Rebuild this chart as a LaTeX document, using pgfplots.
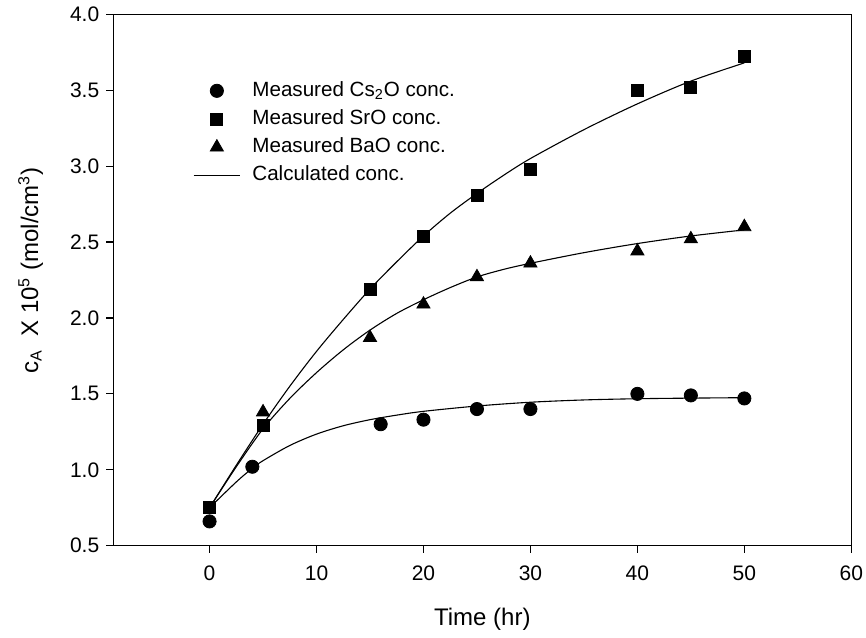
\documentclass[border=0pt]{standalone}
\usepackage{fontspec}
\setmainfont{Liberation Sans}
\usepackage{pgfplots}
\pgfplotsset{compat=1.18}

\begin{document}
\begin{tikzpicture}
\begin{axis}[
    scale only axis,
    width=369pt, height=265.7pt,
    xmin=-9, xmax=60,
    ymin=0.5, ymax=4.0,
    xtick={0,10,...,60},
    ytick={0.5,1.0,...,4.0},
    xtick pos=left, ytick pos=left,
    tick align=outside,
    major tick length=3.5pt,
    axis line style={line width=0.6pt},
    every tick/.style={black, line width=0.6pt},
    /pgf/number format/assume math mode=true,
    yticklabel style={/pgf/number format/.cd, fixed, fixed zerofill, precision=1},
    tick label style={font=\fontsize{10.5}{12}\selectfont},
    xticklabel style={yshift=-3pt},
    xlabel={Time (hr)},
    ylabel={c\textsubscript{A}\ \ X 10\textsuperscript{5} (mol/cm\textsuperscript{3})},
    label style={font=\fontsize{12}{14}\selectfont},
    xlabel style={at={(axis description cs:0.5,-0.139)}, anchor=center},
    ylabel style={at={(axis description cs:-0.112,0.518)}, anchor=center},
    legend cell align=left,
    legend style={
        at={(0.1076,0.875)}, anchor=north west,
        draw=none, fill=none, inner sep=0pt,
        font=\fontsize{10.3}{12}\selectfont,
        row sep=4.4pt, column sep=5.9pt,
        nodes={inner sep=0pt, text height=7.5pt, text depth=2.2pt},
    },
    legend image code/.code={
        \draw[mark repeat=2, mark phase=2] plot coordinates {(0pt,0pt) (11.6pt,0pt) (23.2pt,0pt)};
    },
]

% measured values
\addplot[only marks, mark=*, mark size=3.3pt, black] coordinates {
    (0,0.66) (4,1.02) (16,1.30) (20,1.33) (25,1.40) (30,1.40)
    (40,1.50) (45,1.49) (50,1.47)
};
\addlegendentry{Measured Cs\textsubscript{2}O conc.}

\addplot[only marks, mark=square*, mark size=3pt, black] coordinates {
    (0,0.75) (5,1.29) (15,2.19) (20,2.54) (25,2.81) (30,2.98)
    (40,3.50) (45,3.52) (50,3.72)
};
\addlegendentry{Measured SrO conc.}

\addplot[only marks, mark=triangle*, mark size=3.8pt, black] coordinates {
    (5,1.38) (15,1.87) (20,2.09) (25,2.27) (30,2.36)
    (40,2.44) (45,2.52) (50,2.60)
};
\addlegendentry{Measured BaO conc.}

% calculated curves
\addplot[black, line width=0.55pt, smooth, no marks] coordinates {
    (0,0.75) (2.5,0.92) (4,1.01) (5,1.06) (7.5,1.16) (10,1.235) (12.5,1.29)
    (15,1.33) (17.5,1.36) (20,1.385) (25,1.42) (30,1.445) (35,1.46)
    (40,1.468) (45,1.472) (50,1.475)
};
\addlegendentry{Calculated conc.}

\addplot[black, line width=0.55pt, smooth, no marks, forget plot] coordinates {
    (0,0.75) (2.5,1.03) (5,1.30) (7.5,1.55) (10,1.78) (12.5,1.99)
    (15,2.19) (17.5,2.37) (20,2.54) (22.5,2.69) (25,2.82) (27.5,2.94)
    (30,3.05) (35,3.24) (40,3.41) (45,3.56) (50,3.68)
};

\addplot[black, line width=0.55pt, smooth, no marks, forget plot] coordinates {
    (0,0.75) (2.5,1.02) (5,1.27) (7.5,1.47) (10,1.64) (12.5,1.79)
    (15,1.92) (17.5,2.03) (20,2.12) (22.5,2.20) (25,2.27) (27.5,2.32)
    (30,2.36) (35,2.43) (40,2.49) (45,2.54) (50,2.58)
};

\end{axis}
\pgfresetboundingbox
\path[use as bounding box] (-56.65pt,-45.65pt) rectangle (376.35pt,272.85pt);
\end{tikzpicture}
\end{document}
